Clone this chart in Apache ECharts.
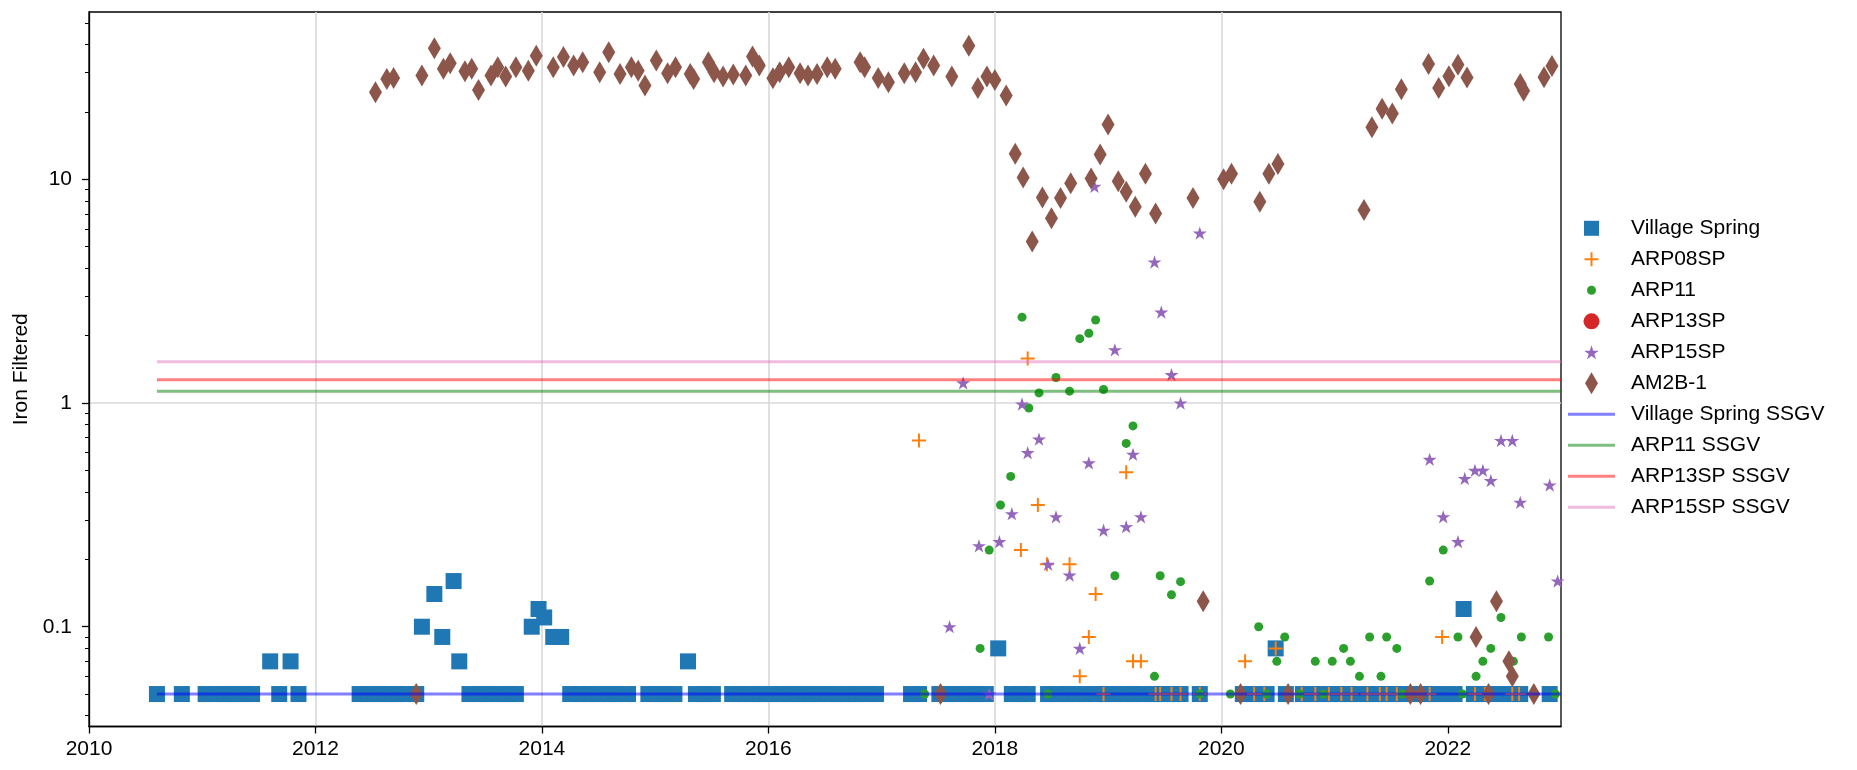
<!DOCTYPE html>
<html>
<head>
<meta charset="utf-8">
<script src="https://cdn.jsdelivr.net/npm/echarts@6/dist/echarts.min.js"></script>
<style>
html,body{margin:0;padding:0;background:#fff;}
#chart{width:1857px;height:770px;}
</style>
</head>
<body>
<div id="chart"></div>
<script>
// ---------- data (x = decimal year, y = Iron Filtered) ----------
const xTicks = [2010, 2012, 2014, 2016, 2018, 2020, 2022];
const yTicks = [0.1, 1, 10];
const yMinorTicks = [0.04,0.05,0.06,0.07,0.08,0.09,0.2,0.3,0.4,0.5,0.6,0.7,0.8,0.9,2,3,4,5,6,7,8,9,20,30,40,50];

const villageSpring = [
[2010.60,0.05],[2010.82,0.05],
[2011.03,0.05],[2011.11,0.05],[2011.20,0.05],[2011.28,0.05],[2011.36,0.05],[2011.44,0.05],
[2011.60,0.07],[2011.68,0.05],[2011.78,0.07],[2011.85,0.05],
[2012.39,0.05],[2012.47,0.05],[2012.56,0.05],[2012.64,0.05],[2012.72,0.05],[2012.81,0.05],[2012.89,0.05],
[2012.94,0.10],[2013.05,0.14],[2013.12,0.09],[2013.22,0.16],[2013.27,0.07],
[2013.36,0.05],[2013.44,0.05],[2013.52,0.05],[2013.61,0.05],[2013.69,0.05],[2013.77,0.05],
[2013.91,0.10],[2013.97,0.12],[2014.02,0.11],[2014.10,0.09],[2014.17,0.09],
[2014.25,0.05],[2014.33,0.05],[2014.42,0.05],[2014.50,0.05],[2014.59,0.05],[2014.67,0.05],[2014.76,0.05],
[2014.94,0.05],[2015.02,0.05],[2015.09,0.05],[2015.17,0.05],
[2015.29,0.07],
[2015.36,0.05],[2015.43,0.05],[2015.51,0.05],
[2015.68,0.05],[2015.76,0.05],[2015.85,0.05],[2015.93,0.05],[2016.02,0.05],[2016.10,0.05],[2016.19,0.05],[2016.27,0.05],
[2016.36,0.05],[2016.44,0.05],[2016.53,0.05],[2016.61,0.05],[2016.70,0.05],[2016.78,0.05],[2016.87,0.05],[2016.95,0.05],
[2017.26,0.05],[2017.33,0.05],
[2017.51,0.05],[2017.59,0.05],[2017.67,0.05],[2017.76,0.05],[2017.84,0.05],[2017.92,0.05],
[2018.03,0.08],
[2018.15,0.05],[2018.22,0.05],[2018.29,0.05],
[2018.47,0.05],[2018.55,0.05],[2018.64,0.05],[2018.72,0.05],[2018.80,0.05],[2018.89,0.05],[2018.97,0.05],[2019.05,0.05],
[2019.14,0.05],[2019.22,0.05],[2019.31,0.05],[2019.39,0.05],[2019.47,0.05],[2019.56,0.05],[2019.64,0.05],
[2019.81,0.05],
[2020.19,0.05],[2020.29,0.05],[2020.40,0.05],
[2020.48,0.08],[2020.57,0.05],
[2020.72,0.05],[2020.80,0.05],[2020.88,0.05],[2020.96,0.05],[2021.05,0.05],[2021.13,0.05],[2021.21,0.05],[2021.29,0.05],
[2021.37,0.05],[2021.45,0.05],[2021.53,0.05],[2021.61,0.05],[2021.70,0.05],[2021.78,0.05],[2021.86,0.05],[2021.94,0.05],
[2022.06,0.05],[2022.14,0.12],
[2022.23,0.05],[2022.31,0.05],[2022.39,0.05],[2022.48,0.05],[2022.56,0.05],[2022.64,0.05],
[2022.90,0.05]
];

const arp08sp = [
[2017.33,0.68],[2018.23,0.22],[2018.29,1.58],[2018.38,0.35],[2018.46,0.19],[2018.66,0.19],[2018.75,0.06],
[2018.83,0.09],[2018.89,0.14],[2018.96,0.05],[2019.16,0.49],[2019.22,0.07],[2019.29,0.07],[2019.42,0.05],
[2019.46,0.05],[2019.56,0.05],[2019.64,0.05],[2019.81,0.05],[2020.21,0.07],[2020.29,0.05],[2020.38,0.05],
[2020.48,0.08],[2020.71,0.05],[2020.83,0.05],[2020.95,0.05],[2021.06,0.05],[2021.15,0.05],[2021.29,0.05],
[2021.40,0.05],[2021.46,0.05],[2021.55,0.05],[2021.84,0.05],[2021.95,0.09],[2022.24,0.05],[2022.33,0.05],
[2022.57,0.05],[2022.63,0.05]
];

const arp11 = [
[2017.38,0.05],[2017.87,0.08],[2017.95,0.22],[2018.05,0.35],[2018.14,0.47],[2018.24,2.42],[2018.30,0.95],
[2018.39,1.11],[2018.47,0.05],[2018.54,1.30],[2018.66,1.13],[2018.75,1.94],[2018.83,2.05],[2018.89,2.35],
[2018.96,1.15],[2019.06,0.169],[2019.16,0.66],[2019.22,0.79],[2019.41,0.06],[2019.46,0.169],[2019.56,0.139],
[2019.64,0.159],[2019.81,0.05],[2020.08,0.05],[2020.33,0.10],[2020.40,0.05],[2020.49,0.07],[2020.56,0.09],
[2020.69,0.05],[2020.83,0.07],[2020.90,0.05],[2020.98,0.07],[2021.08,0.08],[2021.14,0.07],[2021.22,0.06],
[2021.31,0.09],[2021.41,0.06],[2021.46,0.09],[2021.55,0.08],[2021.60,0.05],[2021.84,0.16],[2021.96,0.22],
[2022.09,0.09],[2022.13,0.05],[2022.25,0.06],[2022.31,0.07],[2022.38,0.08],[2022.47,0.11],[2022.58,0.07],
[2022.65,0.09],[2022.89,0.09],[2022.95,0.05]
];

const arp13sp = [];

const arp15sp = [
[2017.60,0.10],[2017.72,1.23],[2017.86,0.23],[2017.95,0.05],[2018.04,0.24],[2018.15,0.32],[2018.24,0.99],
[2018.29,0.60],[2018.39,0.69],[2018.47,0.19],[2018.54,0.31],[2018.66,0.17],[2018.75,0.08],[2018.83,0.54],
[2018.88,9.3],[2018.96,0.27],[2019.06,1.73],[2019.16,0.28],[2019.22,0.59],[2019.29,0.31],[2019.41,4.27],
[2019.47,2.55],[2019.56,1.34],[2019.64,1.00],[2019.81,5.75],[2021.84,0.56],[2021.96,0.31],[2022.09,0.24],
[2022.15,0.46],[2022.24,0.50],[2022.31,0.50],[2022.38,0.45],[2022.47,0.68],[2022.57,0.68],[2022.64,0.36],
[2022.90,0.43],[2022.97,0.16]
];

const am2b1 = [
[2012.53,24.5],[2012.63,28.1],[2012.69,28.4],[2012.89,0.05],[2012.94,29.1],[2013.05,38.6],[2013.13,31.2],
[2013.19,33.0],[2013.32,30.4],[2013.38,31.2],[2013.44,25.1],[2013.55,29.1],[2013.61,31.7],[2013.68,28.8],
[2013.77,31.7],[2013.88,30.6],[2013.95,35.7],[2014.10,31.7],[2014.19,35.2],[2014.28,32.3],[2014.36,33.4],
[2014.51,30.1],[2014.59,37.0],[2014.69,29.6],[2014.79,31.7],[2014.85,30.6],[2014.91,26.3],[2015.01,34.0],
[2015.11,29.8],[2015.18,31.7],[2015.31,29.6],[2015.34,28.1],[2015.47,33.4],[2015.52,30.1],[2015.60,28.8],
[2015.69,29.4],[2015.80,29.1],[2015.86,35.4],[2015.92,32.3],[2016.04,28.3],[2016.10,30.1],[2016.18,31.7],
[2016.28,29.8],[2016.35,29.1],[2016.43,29.6],[2016.52,31.7],[2016.59,31.2],[2016.81,33.4],[2016.85,31.7],
[2016.97,28.4],[2017.06,27.2],[2017.20,29.8],[2017.30,30.1],[2017.37,34.6],[2017.46,32.3],[2017.52,0.05],
[2017.62,28.8],[2017.77,39.6],[2017.85,25.6],[2017.93,28.8],[2018.00,27.8],[2018.10,23.7],[2018.18,13.0],
[2018.25,10.2],[2018.33,5.28],[2018.42,8.3],[2018.50,6.7],[2018.58,8.26],[2018.67,9.6],[2018.85,10.1],
[2018.93,12.9],[2019.00,17.6],[2019.09,9.8],[2019.16,8.8],[2019.24,7.55],[2019.33,10.6],[2019.42,7.04],
[2019.75,8.26],[2019.84,0.13],[2020.02,10.0],[2020.09,10.6],[2020.17,0.05],[2020.34,7.95],[2020.42,10.6],
[2020.50,11.7],[2020.59,0.05],[2021.26,7.3],[2021.33,17.1],[2021.42,20.7],[2021.51,19.7],[2021.59,25.3],
[2021.67,0.05],[2021.76,0.05],[2021.83,32.8],[2021.92,25.6],[2022.01,28.9],[2022.09,32.5],[2022.17,28.5],
[2022.25,0.09],[2022.36,0.05],[2022.43,0.13],[2022.54,0.07],[2022.57,0.06],[2022.64,26.7],[2022.67,24.9],
[2022.76,0.05],[2022.85,28.6],[2022.92,32.1]
];

// screening values (horizontal guide lines) and their x span
const ssgvSpan = [2010.60, 2023.0];
const villageSpringSSGV = 0.05;
const arp11SSGV = 1.13;
const arp13spSSGV = 1.27;
const arp15spSSGV = 1.53;

// ---------- styling ----------
const FONT = "'Liberation Sans', Arial, sans-serif";
const FS = 21;
const SQUARE = 'path://M0,0L10,0L10,10L0,10Z';
const PLUS = 'path://M0,6L14,6L14,8L0,8Z M6,0L8,0L8,14L6,14Z';
const STAR = 'path://M50,0L61.17,34.63L97.55,34.55L68.07,55.87L79.39,90.45L50,69L20.61,90.45L31.93,55.87L2.45,34.55L38.83,34.63Z';
const DIAMOND = 'path://M5,0L10,8.5L5,17L0,8.5Z';
const LINEICON = 'path://M0,0L47,0L47,3L0,3Z';

const yMin = 0.0358, yMax = 56;

function hline(v){ return [[ssgvSpan[0], v],[ssgvSpan[1], v]]; }

// legend rows: icon, icon box height, actual icon width
const legendRows = [
  {name:'Village Spring', icon:SQUARE, h:15, w:15},
  {name:'ARP08SP', icon:PLUS, h:14, w:14},
  {name:'ARP11', icon:'circle', h:9, w:9},
  {name:'ARP13SP', icon:'circle', h:16, w:16},
  {name:'ARP15SP', icon:STAR, h:14, w:14.7},
  {name:'AM2B-1', icon:DIAMOND, h:22, w:12.9},
  {name:'Village Spring SSGV', icon:LINEICON, h:3, w:47},
  {name:'ARP11 SSGV', icon:LINEICON, h:3, w:47},
  {name:'ARP13SP SSGV', icon:LINEICON, h:3, w:47},
  {name:'ARP15SP SSGV', icon:LINEICON, h:3, w:47}
];
const legends = legendRows.map((r,i)=>{
  const c = 228.3 + 31*i;
  return {
    data:[{name:r.name, icon:r.icon}], left:1591.5 - r.w/2, top:c-12, itemWidth:47, itemHeight:r.h, padding:0,
    selectedMode:false, symbolKeepAspect:true,
    textStyle:{fontSize:FS, color:'#000', fontFamily:FONT, lineHeight:24, padding:[0,0,0,11]}
  };
});

function scatter(name, data, symbol, size, color){
  return {name, type:'scatter', data, symbol, symbolSize:size, silent:true,
    itemStyle:{color, opacity:1}, clip:true};
}
function ssgv(name, v, color){
  return {name, type:'line', data:hline(v), symbol:'none', showSymbol:false, silent:true, clip:true,
    lineStyle:{color, width:3}, itemStyle:{color}};
}

const chart = echarts.init(document.getElementById('chart'), null, {renderer:'canvas'});
chart.setOption({
  animation:false,
  backgroundColor:'#ffffff',
  textStyle:{fontFamily:FONT},
  grid:{left:89, top:12, width:1472, height:714.5, show:true, borderColor:'#000', borderWidth:1.3, backgroundColor:'rgba(0,0,0,0)'},
  xAxis:{
    type:'value', min:2010, max:2023, interval:2,
    axisLine:{show:true, onZero:false, lineStyle:{color:'#000', width:1.3}},
    axisTick:{show:true, length:7, customValues:xTicks, lineStyle:{color:'#000', width:1.3}},
    axisLabel:{customValues:xTicks, formatter:v=>String(Math.round(v)), fontSize:FS, color:'#000', margin:12, fontFamily:FONT},
    splitLine:{show:true, showMinLine:false, showMaxLine:false, lineStyle:{color:'#d9d9d9', width:1.6}}
  },
  yAxis:[{
    type:'log', logBase:10, min:yMin, max:yMax,
    name:'Iron Filtered', nameLocation:'middle', nameGap:52,
    nameTextStyle:{fontSize:FS, color:'#000', fontFamily:FONT},
    axisLine:{show:true, lineStyle:{color:'#000', width:1.3}},
    axisTick:{show:true, length:7, customValues:yTicks, lineStyle:{color:'#000', width:1.3}},
    axisLabel:{customValues:yTicks, formatter:v=> v<1 ? v.toFixed(1) : String(Math.round(v)), fontSize:FS, color:'#000', margin:17, fontFamily:FONT},
    splitLine:{show:true, showMinLine:false, showMaxLine:false, lineStyle:{color:'#d9d9d9', width:1.6}}
  },{
    type:'log', logBase:10, min:yMin, max:yMax, position:'left', offset:0,
    axisLine:{show:false}, axisLabel:{show:false}, splitLine:{show:false},
    axisTick:{show:true, length:4, customValues:yMinorTicks, lineStyle:{color:'#000', width:1}}
  }],
  legend:legends,
  series:[
    scatter('Village Spring', villageSpring, 'rect', 16, '#1f77b4'),
    scatter('ARP08SP', arp08sp, PLUS, 14, '#ff7f0e'),
    scatter('ARP11', arp11, 'circle', 9, '#2ca02c'),
    scatter('ARP13SP', arp13sp, 'circle', 16, '#d62728'),
    scatter('ARP15SP', arp15sp, STAR, [14,13.3], '#9467bd'),
    scatter('AM2B-1', am2b1, DIAMOND, [13,22], '#8c564b'),
    ssgv('Village Spring SSGV', villageSpringSSGV, 'rgba(0,0,255,0.5)'),
    ssgv('ARP11 SSGV', arp11SSGV, 'rgba(0,128,0,0.5)'),
    ssgv('ARP13SP SSGV', arp13spSSGV, 'rgba(255,0,0,0.5)'),
    ssgv('ARP15SP SSGV', arp15spSSGV, 'rgba(227,119,194,0.5)')
  ]
});
</script>
</body>
</html>
